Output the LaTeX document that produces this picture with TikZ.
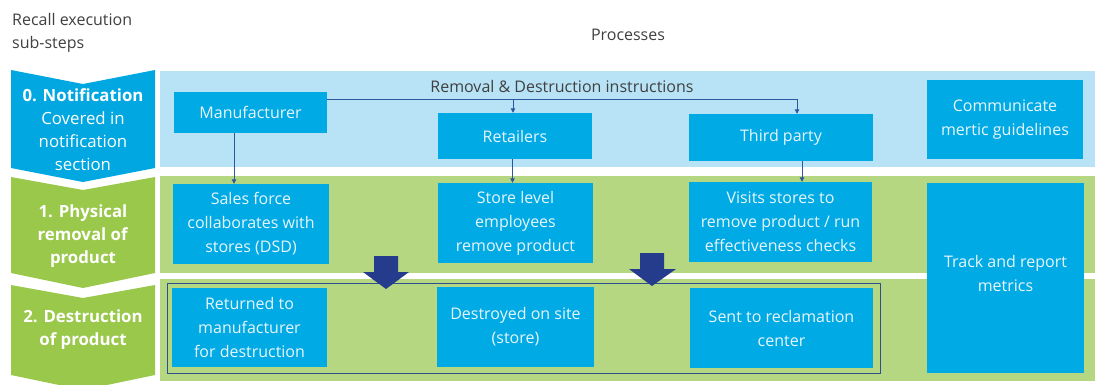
\documentclass[tikz,border=0pt]{standalone}
\usepackage{fontspec}
\setmainfont{Open Sans}
\usetikzlibrary{arrows.meta,calc}

\definecolor{stepblue}{RGB}{0,167,225}
\definecolor{boxblue}{RGB}{0,170,228}
\definecolor{paleblue}{RGB}{184,227,246}
\definecolor{stepgreen}{RGB}{153,200,74}
\definecolor{palegreen}{RGB}{182,215,130}
\definecolor{navy}{RGB}{37,60,140}
\definecolor{frameblue}{RGB}{46,80,145}
\definecolor{linkblue}{RGB}{44,88,160}
\definecolor{headgray}{RGB}{64,64,64}
\definecolor{boxtext}{RGB}{232,246,252}

\tikzset{
  procbox/.style={fill=boxblue, draw=none, text=boxtext, align=center,
    inner sep=0pt, font=\fontsize{16}{24}\selectfont},
  steptext/.style={text=white, align=center, inner sep=0pt,
    font=\fontsize{16.8}{22.8}\selectfont},
  headtext/.style={text=headgray, inner sep=0pt,
    font=\fontsize{16}{23}\selectfont},
  conn/.style={draw=linkblue, line width=0.9pt,
    -{Triangle[length=4.5pt,width=4.5pt]}},
  bigarrow/.style={fill=navy}
}

\begin{document}
\begin{tikzpicture}[x=1pt,y=-1pt]
\useasboundingbox (0,0) rectangle (1095,384);

% column headings
\node[headtext, anchor=west, align=left] (hsteps) at (12,32.5)
  {Recall execution\\sub-steps};
\node[headtext] (hproc) at (628,35) {Processes};

% background bands
\fill[paleblue]  (160,71)  rectangle (1095,167);
\fill[palegreen] (160,176) rectangle (1095,273);
\fill[palegreen] (160,279) rectangle (1095,381);

% step chevrons
\fill[stepblue]  (11,70) -- (83,84) -- (155,70) -- (155,168) -- (83,182) -- (11,168) -- cycle;
\fill[stepgreen] (11,177) -- (83,190) -- (155,177) -- (155,273) -- (83,288) -- (11,273) -- cycle;
\fill[stepgreen] (11,285) -- (83,298) -- (155,285) -- (155,375) -- (83,390) -- (11,375) -- cycle;

\node[steptext] (s0) at (83,129.5)
  {\textbf{0. Notification}\\Covered in\\notification\\section};
\node[steptext] (s1) at (83,236) {\textbf{1. Physical}\\\textbf{removal of}\\\textbf{product}};
\node[steptext] (s2) at (83,330) {\textbf{2. Destruction}\\\textbf{of product}};

% row 0: notification
\node[procbox, minimum width=153pt, minimum height=41pt] (man)   at (250.5,112.5) {Manufacturer};
\node[procbox, minimum width=154pt, minimum height=46pt] (ret)   at (515,136) {Retailers};
\node[procbox, minimum width=184pt, minimum height=47pt] (third) at (781,137.5) {Third party};
\node[procbox, minimum width=156pt, minimum height=79pt] (comm)  at (1005,119.5) {Communicate\\mertic guidelines};

% row 1: physical removal
\node[procbox, minimum width=156pt, minimum height=80pt] (sales) at (251,224) {Sales force\\collaborates with\\stores (DSD)};
\node[procbox, minimum width=155pt, minimum height=80pt] (store) at (515.5,223) {Store level\\employees\\remove product};
\node[procbox, minimum width=183pt, minimum height=80pt] (visit) at (780.5,222) {Visits stores to\\remove product / run\\effectiveness checks};
\node[procbox, minimum width=157pt, minimum height=190pt] (track) at (1005.5,278) {};
\node[procbox, fill=none] (tracktxt) at (1005.5,273) {Track and report\\metrics};

% row 2: destruction
\node[procbox, minimum width=155pt, minimum height=79pt] (retmfr)  at (249.5,327.5) {Returned to\\manufacturer\\for destruction};
\node[procbox, minimum width=157pt, minimum height=80pt] (onsite)  at (515.5,327) {Destroyed on site\\(store)};
\node[procbox, minimum width=183pt, minimum height=80pt] (reclaim) at (781.5,328) {Sent to reclamation\\center};
\draw[frameblue, line width=1pt] (167,283) rectangle (880,373);

% instruction flow
\coordinate (bus) at (327,99);
\node[headtext] (instr) at (562,86) {Removal \& Destruction instructions};
\draw[conn] (bus) -| ([xshift=16pt]third.north);
\draw[conn] ([xshift=-2pt]ret.north |- bus) -- ([xshift=-2pt]ret.north);
\draw[conn] ([xshift=-16.5pt]man.south) -- ([xshift=-16.5pt]man.south |- sales.north);
\draw[conn] ([xshift=-2.5pt]ret.south) -- ([xshift=-2.5pt]ret.south |- store.north);
\draw[conn] ([xshift=21pt]third.south) -- ([xshift=21pt]third.south |- visit.north);

% block arrows from removal to destruction
\fill[bigarrow] (374,256) -- (398,256) -- (398,272) -- (409,272) -- (386,289) -- (363,272) -- (374,272) -- cycle;
\fill[bigarrow] (640,253) -- (664,253) -- (664,269) -- (676,269) -- (652,286) -- (629,269) -- (640,269) -- cycle;
\end{tikzpicture}
\end{document}
